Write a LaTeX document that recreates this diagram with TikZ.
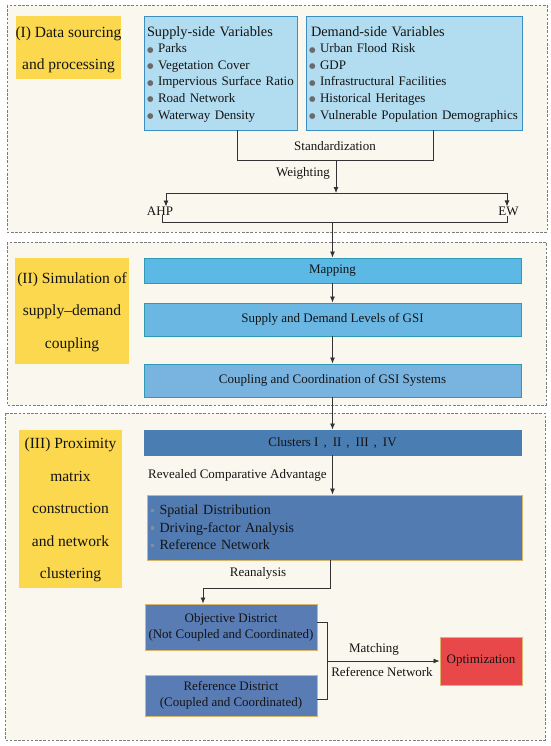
\documentclass[tikz,border=0pt]{standalone}
\usepackage{fontspec}
\setmainfont{Liberation Serif}
\newfontfamily\dejavu{DejaVu Sans}
\usetikzlibrary{arrows.meta}
\definecolor{cream}{HTML}{FAF7EE}
\definecolor{dashgray}{HTML}{7C7C7C}
\definecolor{labyellow}{HTML}{FBD84E}
\definecolor{varfill}{HTML}{B2DCF0}
\definecolor{varborder}{HTML}{3B8FC2}
\definecolor{mapfill}{HTML}{5CB9E6}
\definecolor{sdlfill}{HTML}{6AB7E4}
\definecolor{coupfill}{HTML}{79B4E1}
\definecolor{tealborder}{HTML}{2E9AB3}
\definecolor{clufill}{HTML}{4A7DB2}
\definecolor{bigfill}{HTML}{517BB1}
\definecolor{distfill}{HTML}{5A7CB5}
\definecolor{goldborder}{HTML}{D9B56B}
\definecolor{optfill}{HTML}{E8484A}
\definecolor{linec}{HTML}{333333}
\definecolor{bulgray}{HTML}{6A6A6A}
\definecolor{bulgraylt}{HTML}{8C8C8C}
\definecolor{txt}{HTML}{141414}
\newcommand\bul{\raisebox{0.6pt}{\textcolor{bulgray}{\dejavu\fontsize{7.5}{8}\selectfont ●}}\hspace{4.5pt}}
\newcommand\sbul{\raisebox{2.6pt}{\textcolor{bulgraylt}{\rule{3.6pt}{3.6pt}}}\hspace{5.5pt}}
\newcommand\csep{\hspace{5pt},\hspace{6pt}}
\tikzset{
  sect/.style={draw=dashgray, fill=cream, line width=0.9pt, dash pattern=on 2.6pt off 1.6pt},
  ylab/.style={fill=labyellow, align=center, font=\fontsize{15.5}{32.5}\selectfont, inner sep=0pt, text=txt},
  varbox/.style={draw=varborder, fill=varfill, line width=0.9pt, align=left, inner ysep=0pt, font=\fontsize{13}{16.6}\selectfont, text=txt, minimum height=114pt},
  flowbox/.style={draw=tealborder, line width=0.9pt, minimum width=377pt, inner sep=0pt, font=\fontsize{13}{16}\selectfont, text=txt},
  darkbox/.style={draw=goldborder, line width=0.9pt, inner sep=0pt, font=\fontsize{13}{16}\selectfont, text=txt, align=center},
  arr/.style={-{Latex[length=6pt,width=5pt]}, line width=0.8pt, draw=linec},
  ln/.style={line width=0.8pt, draw=linec},
  lab/.style={font=\fontsize{13}{16}\selectfont, inner sep=0pt, text=txt}
}
\begin{document}
\begin{tikzpicture}[x=1pt,y=-1pt]
\useasboundingbox[fill=white] (0,0) rectangle (550,746);
% sections
\draw[sect] (7,5) rectangle (547,232);
\draw[sect] (7,242) rectangle (546,405);
\draw[sect] (5,413) rectangle (545,740);
% yellow labels
\node[ylab, minimum width=105pt, minimum height=63pt] (l1) at (68.5,47.5) {\rule{0pt}{15pt}(I) Data sourcing\\and processing};
\node[ylab, minimum width=114pt, minimum height=106pt] (l2) at (72,311) {\rule{0pt}{13pt}(II) Simulation of\\supply--demand\\coupling};
\node[ylab, minimum width=103pt, minimum height=158pt] (l3) at (70.5,509) {\rule{0pt}{13pt}(III) Proximity\\matrix\\construction\\and network\\clustering};
% variable boxes
\node[varbox, inner xsep=3pt, minimum width=153pt, text width=147pt] (sup) at (220.5,73)
 {\rule{0pt}{12pt}{\fontsize{14.3}{16.6}\selectfont Supply-side Variables}\\
  \bul Parks\\ \bul Vegetation Cover\\ \bul Impervious Surface Ratio\\ \bul Road Network\\ \bul Waterway Density};
\node[varbox, inner xsep=3pt, minimum width=216pt, text width=210pt] (dem) at (414,73)
 {\rule{0pt}{12pt}\hspace{2pt}{\fontsize{14.3}{16.6}\selectfont Demand-side Variables}\\
  \bul Urban Flood Risk\\ \bul GDP\\ \bul Infrastructural Facilities\\ \bul Historical Heritages\\ \mbox{\bul Vulnerable Population Demographics}};
% weighting connectors
\coordinate (js) at (237,160);
\coordinate (jd) at (433,160);
\coordinate (jw) at (336,160);
\coordinate (tl) at (166,193);
\coordinate (tr) at (507,193);
\coordinate (bl) at (162,222);
\coordinate (br) at (507,222);
\draw[ln] (sup.south -| js) -- (js) -- (jd) -- (dem.south -| jd);
\node[lab] (std) at (335,146) {Standardization};
\node[lab] (wgt) at (303,173) {Weighting};
\draw[arr] (jw) -- (jw |- tl);
\draw[ln] (tl) -- (tr);
\node[lab] (ahp) at (160,211) {AHP};
\node[lab] (ew) at (508.5,211) {EW};
\draw[arr] (tl) -- (tl |- ahp.north);
\draw[arr] (tr) -- (tr |- ew.north);
\draw[ln] (ahp.south -| bl) -- (bl) -- (br) -- (ew.south -| br);
% flow boxes
\node[flowbox, fill=mapfill, minimum height=25pt] (map) at (332.5,270.5) {Mapping};
\node[flowbox, fill=sdlfill, minimum height=33pt] (sdl) at (332.5,319.5) {Supply and Demand Levels of GSI};
\node[flowbox, fill=coupfill, minimum height=33pt] (coup) at (332.5,380.5) {Coupling and Coordination of GSI Systems};
\node[flowbox, draw=clufill, fill=clufill, minimum height=25pt] (clu) at (332.5,442.5) {Clusters I\csep II\csep III\csep IV};
\draw[arr] (map.north |- bl) -- (map.north);
\draw[arr] (map.south) -- (sdl.north);
\draw[arr] (sdl.south) -- (coup.north);
\draw[arr] (coup.south) -- (clu.north);
% big box
\node[darkbox, fill=bigfill, minimum width=375pt, minimum height=65pt, align=left, inner xsep=3.5pt, text width=368pt, font=\fontsize{14}{17.5}\selectfont] (big) at (334.5,527.5)
 {\sbul Spatial Distribution\\ \sbul Driving-factor Analysis\\ \sbul Reference Network};
\draw[arr] (clu.south) -- (clu.south |- big.north);
\node[lab, anchor=west] (rca) at (148,475) {Revealed Comparative Advantage};
% districts
\node[darkbox, fill=distfill, minimum width=172pt, minimum height=46pt] (obj) at (231,627) {Objective District\\(Not Coupled and Coordinated)};
\node[darkbox, fill=distfill, minimum width=172pt, minimum height=41pt] (ref) at (231,695.5) {Reference District\\(Coupled and Coordinated)};
\node[darkbox, fill=optfill, minimum width=82pt, minimum height=48pt] (opt) at (481,661) {Optimization};
\coordinate (ra) at (330,588);
\coordinate (rb) at (203,588);
\draw[arr] (big.south -| ra) -- (ra) -- (rb) -- (obj.north -| rb);
\node[lab] (rean) at (258,573) {Reanalysis};
\coordinate (bt) at (327,622);
\coordinate (bb) at (327,699);
\coordinate (bm) at (327,661);
\draw[ln] (obj.east |- bt) -- (bt) -- (bb) -- (ref.east |- bb);
\draw[arr] (bm) -- (opt.west);
\node[lab] (mat) at (374,649) {Matching};
\node[lab] (rnet) at (382,672) {Reference Network};
\end{tikzpicture}
\end{document}
